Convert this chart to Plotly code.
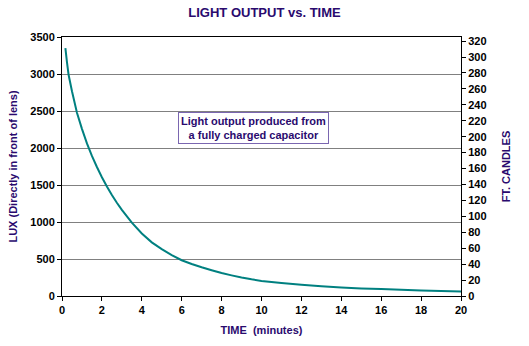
import plotly.graph_objects as go

# Measured light output after a full charge
time_min = [0.17, 0.25, 0.33, 0.5, 0.75, 1.0, 1.25, 1.5, 1.75, 2.0, 2.25, 2.5,
            2.75, 3.0, 3.5, 4.0, 4.5, 5.0, 5.5, 6.0, 6.5, 7.0, 7.5, 8.0, 8.5,
            9.0, 9.5, 10, 10.5, 11, 12, 13, 14, 15, 16, 17, 18, 19, 20]
lux = [3350, 3157, 2990, 2767, 2476, 2259, 2062, 1893, 1743, 1605, 1479, 1365,
       1260, 1163, 991, 844, 725, 633, 553, 483, 433, 388, 348, 311, 279,
       250, 225, 204, 190, 177, 153, 132, 116, 103, 93, 84, 76, 69, 62]

LUX_PER_FC = 10.764
lux_max = 3500

x_ticks = list(range(0, 21, 2))
lux_ticks = list(range(0, 3501, 500))
fc_ticks = list(range(0, 321, 20))

PURPLE = "#2a0a6e"
FONT = "Liberation Sans, Arial, sans-serif"

fig = go.Figure()
fig.add_trace(go.Scatter(x=time_min, y=lux, mode="lines",
                         line=dict(color="#008080", width=2, simplify=False),
                         showlegend=False))

axis_common = dict(showline=True, linecolor="black", linewidth=1,
                   ticks="outside", ticklen=4, tickcolor="black",
                   tickfont=dict(family=FONT, size=11, color="black",
                                 weight="bold"),
                   zeroline=False)

fig.update_layout(
    width=529, height=346,
    margin=dict(l=62, r=68, t=37, b=50),
    paper_bgcolor="white", plot_bgcolor="white",
    font=dict(family=FONT, color="black"),
    title=dict(text="<b>LIGHT OUTPUT vs. TIME</b>", x=0.5, xanchor="center",
               y=1 - 12 / 346, yanchor="middle",
               font=dict(family=FONT, size=13, color=PURPLE)),
    xaxis=dict(range=[0, 20], tickvals=x_ticks, mirror=False,
               showgrid=False,
               title=dict(text="<b>TIME  (minutes)</b>", standoff=11,
                          font=dict(family=FONT, size=11, color=PURPLE)),
               **axis_common),
    yaxis=dict(range=[0, lux_max], tickvals=lux_ticks,
               showgrid=True, gridcolor="#808080", gridwidth=1,
               title=dict(text="<b>LUX (Directly in front of lens)</b>", standoff=10,
                          font=dict(family=FONT, size=11, color=PURPLE)),
               **axis_common),
    yaxis2=dict(range=[0, lux_max / LUX_PER_FC], tickvals=fc_ticks,
                overlaying="y", side="right", showgrid=False,
                title=dict(text="<b>FT. CANDLES</b>", standoff=16,
                           font=dict(family=FONT, size=11, color=PURPLE)),
                **axis_common),
    xaxis2=dict(range=[0, 20], overlaying="x", side="top", showline=True,
                linecolor="black", linewidth=1, showticklabels=False,
                ticks="", showgrid=False, zeroline=False),
)

# Empty traces so the secondary axes are drawn
fig.add_trace(go.Scatter(x=[], y=[], yaxis="y2", showlegend=False))
fig.add_trace(go.Scatter(x=[], y=[], xaxis="x2", showlegend=False))

fig.add_annotation(x=9.6, y=2270, xref="x", yref="y",
                   text="<b>Light output produced from<br>a fully charged capacitor</b>",
                   showarrow=False, bgcolor="white", bordercolor="#7a66b0",
                   borderwidth=1, borderpad=2,
                   font=dict(family=FONT, size=11, color=PURPLE))

fig.write_html("out.html")
